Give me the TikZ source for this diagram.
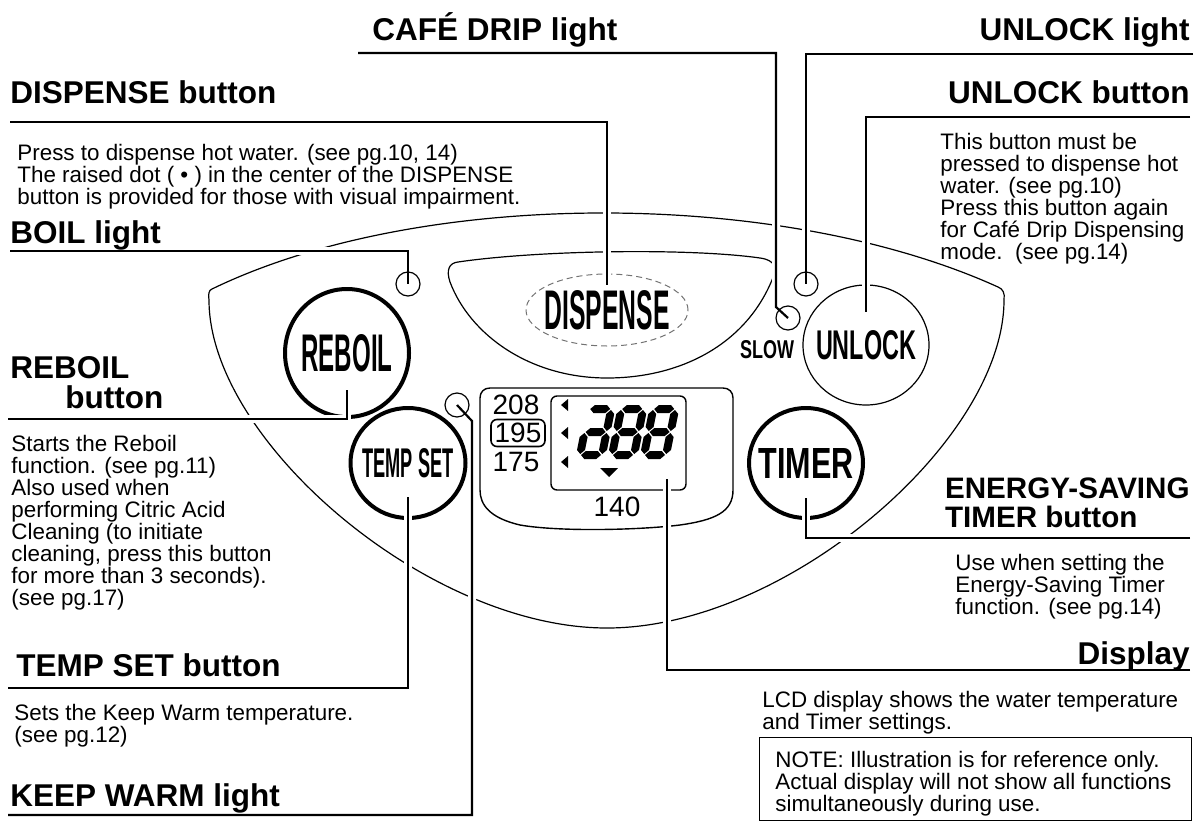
\documentclass[tikz,border=0pt]{standalone}
\usepackage{fontspec}
\setmainfont{Liberation Sans}
\usepackage{graphicx}
\usetikzlibrary{shapes.geometric,positioning}

\newcommand\headfont{\fontsize{15.75}{15}\selectfont\bfseries}
\newcommand\smallhead{\fontsize{14.8}{14.5}\selectfont\bfseries}
\newcommand\bodyfont{\fontsize{11.2}{11}\selectfont}
\newcommand\lcdfont{\fontsize{14}{14}\selectfont}
% condensed key caption: width, cap height, text
\newcommand\keylabel[3]{\resizebox{#1}{#2}{\bfseries #3}}
% seven segment pieces
\newcommand\hseg[3]{\fill (#1,#3) -- (#1+4,#3-4) -- (#2-4,#3-4) -- (#2,#3) -- (#2-4,#3+4) -- (#1+4,#3+4) -- cycle;}
\newcommand\vseg[3]{\fill (#1,#2) -- (#1+4,#2+4) -- (#1+4,#3-4) -- (#1,#3) -- (#1-4,#3-4) -- (#1-4,#2+4) -- cycle;}

\begin{document}
\begin{tikzpicture}[x=0.5pt, y=-0.5pt,
    head/.style={font=\headfont, inner sep=0pt},
    body/.style={font=\bodyfont, align=left, inner sep=0pt},
    panel/.style={line width=0.6pt},
    ring/.style={ellipse, draw, line width=2pt, inner sep=0pt},
    light/.style={circle, draw, line width=0.6pt, minimum size=12pt, inner sep=0pt},
    lead/.style={line width=1.1pt, preaction={draw=white, line width=4pt}},
    leadlight/.style={line width=1.1pt, preaction={draw=white, line width=4pt, shorten >=8pt}}
  ]
  \useasboundingbox (0,0) rectangle (1198,824);

  % control panel outline
  \draw[panel] (212,289) .. controls (420,188) and (780,188) .. (998,287)
    .. controls (1003,289) and (1005,293) .. (1004,300)
    .. controls (1004,440) and (787,628) .. (607,628)
    .. controls (427,628) and (209,440) .. (209,300)
    .. controls (208,294) and (209,290) .. (212,289) -- cycle;

  % dispense pad
  \draw[panel] (458,262) .. controls (540,250) and (690,248) .. (760,258)
    .. controls (775,260) and (778,268) .. (772,280)
    .. controls (745,345) and (680,378) .. (607,378)
    .. controls (530,378) and (470,335) .. (450,282)
    .. controls (446,270) and (449,263) .. (458,262) -- cycle;

  % LCD bezel
  \draw[panel, line width=0.7pt] (490,388) -- (723,388) .. controls (729,388) and (733,392) .. (733,398)
    -- (733,490) .. controls (733,512) and (715,520) .. (680,525)
    .. controls (640,530) and (560,532) .. (520,525)
    .. controls (490,518) and (480,505) .. (480,490) -- (480,398)
    .. controls (480,392) and (484,388) .. (490,388) -- cycle;
  \node[draw, rounded corners=3pt, line width=0.7pt, minimum width=67.5pt,
        minimum height=47pt, inner sep=0pt] (lcd) at (618.5,443) {};

  \node[font=\lcdfont, inner sep=0pt] (t208) at (516,405) {208};
  \node[font=\lcdfont, draw, rounded corners=3pt, line width=0.8pt, minimum width=27pt,
        minimum height=13.5pt, inner sep=0pt] (t195) at (518,433) {195};
  \node[font=\lcdfont, inner sep=0pt] (t175) at (516,462) {175};
  \node[font=\lcdfont, inner sep=0pt] (t140) at (617,507) {140};

  \foreach \y in {405,433,462}
    \fill (568,\y-6) -- (568,\y+6) -- (561,\y) -- cycle;
  \fill (600,468) -- (618,468) -- (609,477) -- cycle;

  \foreach \dx [count=\i] in {586,618,650} {
    \begin{scope}[shift={(\dx,405)}, xslant=0.2]
      \hseg{5}{25}{4} \hseg{5}{25}{27} \hseg{5}{25}{50}
      \vseg{26}{5}{26} \vseg{26}{28}{49} \vseg{4}{28}{49}
      \ifnum\i>1 \vseg{4}{5}{26}\fi
    \end{scope}
  }

  % keys
  \node[ring, minimum width=62pt, minimum height=64pt,
        label={center:\keylabel{45.5pt}{18.5pt}{REBOIL}}] (reboil) at (347,353) {};
  \node[ring, minimum width=57.5pt, minimum height=55pt,
        label={center:\keylabel{45.5pt}{14.5pt}{TEMP SET}}] (tempset) at (408,463) {};
  \node[ring, minimum width=57pt, minimum height=55pt,
        label={center:\keylabel{47.5pt}{15pt}{TIMER}}] (timer) at (806,463) {};
  \node[ellipse, draw, line width=0.6pt, minimum width=63pt, minimum height=60pt, inner sep=0pt,
        label={center:\keylabel{50pt}{14.5pt}{UNLOCK}}] (unlock) at (866,345) {};
  \node[ellipse, draw=black!55, dash pattern=on 3pt off 2pt, line width=0.5pt,
        minimum width=81pt, minimum height=36pt, inner sep=0pt,
        label={center:\keylabel{62.5pt}{19.5pt}{DISPENSE}}] (dispdot) at (607,310) {};

  % lights
  \node[light] (boil) at (408,284) {};
  \node[light] (ulight) at (806,284) {};
  \node[light] (slow) at (788,318) {};
  \node[light] (kw) at (457,405) {};
  \node[inner sep=0pt] (slowTx) at (767,350) {\keylabel{27pt}{9pt}{SLOW}};

  % leader lines
  \coordinate (cafeA) at (358,53);
  \coordinate (cafeB) at (776,307);
  \coordinate (ulightA) at (1193,54);
  \coordinate (ubtnA) at (1190,117);
  \coordinate (dispA) at (10,122);
  \coordinate (boilA) at (10,251);
  \coordinate (reboilA) at (8,419);
  \coordinate (tempA) at (8,688);
  \coordinate (kwA) at (8,815);
  \coordinate (kwB) at (472,421);
  \coordinate (timerA) at (1190,538);
  \coordinate (lcdA) at (1190,670);

  \draw[leadlight] (cafeA) -| (cafeB) -- (slow.center);
  \draw[leadlight] (ulightA) -| (ulight.center);
  \draw[lead] (ubtnA) -| ([yshift=-14pt]unlock.north);
  \draw[lead] (dispA) -| ([yshift=-5.5pt]dispdot.north);
  \draw[leadlight] (boilA) -| (boil.center);
  \draw[lead] (reboilA) -| ([yshift=-18.5pt]reboil.center);
  \draw[lead] (tempA) -| ([yshift=-17pt]tempset.center);
  \draw[leadlight] (kwA) -| (kwB) -- (kw.center);
  \draw[lead] (timerA) -| ([yshift=-17.5pt]timer.center);
  \draw[lead] (lcdA) -| ([shift={(-10pt,6pt)}]lcd.south east);

  % headings (base = last line)
  \node[head, anchor=base west] (cafeHd) at (372,41) {CAFÉ DRIP light};
  \node[head, anchor=base east] (ulightHd) at (1190,41) {UNLOCK light};
  \node[head, anchor=base east] (ubtnHd) at (1190,104) {UNLOCK button};
  \node[head, anchor=base west] (dispHd) at (10,104) {DISPENSE button};
  \node[head, anchor=base west] (boilHd) at (10,243) {BOIL light};
  \node[head, anchor=base west, align=left] (reboilHd) at (10,408) {REBOIL\\\hspace*{27.5pt}button};
  \node[head, anchor=base west] (tempHd) at (16,676) {TEMP SET button};
  \node[head, anchor=base west] (kwHd) at (10,806) {KEEP WARM light};
  \node[head, font=\smallhead, anchor=base east, align=left] (timerHd) at (1190,527) {ENERGY-SAVING\\TIMER button};
  \node[head, anchor=base east] (lcdHd) at (1190,664) {Display};

  % descriptions (base = last line)
  \node[body, anchor=base west] (dispTx) at (17,204) {Press to dispense hot water. (see pg.10, 14)\\The raised dot ( • ) in the center of the DISPENSE\\button is provided for those with visual impairment.};
  \node[body, anchor=base west] (ubtnTx) at (940,259) {This button must be\\pressed to dispense hot\\water. (see pg.10)\\Press this button again\\for Café Drip Dispensing\\mode.\ \ (see pg.14)};
  \node[body, anchor=base west] (reboilTx) at (11,605) {Starts the Reboil\\function. (see pg.11)\\Also used when\\performing Citric Acid\\Cleaning (to initiate\\cleaning, press this button\\for more than 3 seconds).\\(see pg.17)};
  \node[body, anchor=base west] (tempTx) at (14,742) {Sets the Keep Warm temperature.\\(see pg.12)};
  \node[body, anchor=base west] (timerTx) at (955,614) {Use when setting the\\Energy-Saving Timer\\function. (see pg.14)};
  \node[body, anchor=base west] (lcdTx) at (762,729) {LCD display shows the water temperature\\and Timer settings.};
  \node[draw, line width=0.6pt, anchor=north west, minimum width=216pt, minimum height=41.5pt,
        inner sep=0pt] (noteBox) at (759,737) {};
  \node[body, anchor=base west] (noteTx) at (775,811) {NOTE: Illustration is for reference only.\\Actual display will not show all functions\\simultaneously during use.};
\end{tikzpicture}
\end{document}
